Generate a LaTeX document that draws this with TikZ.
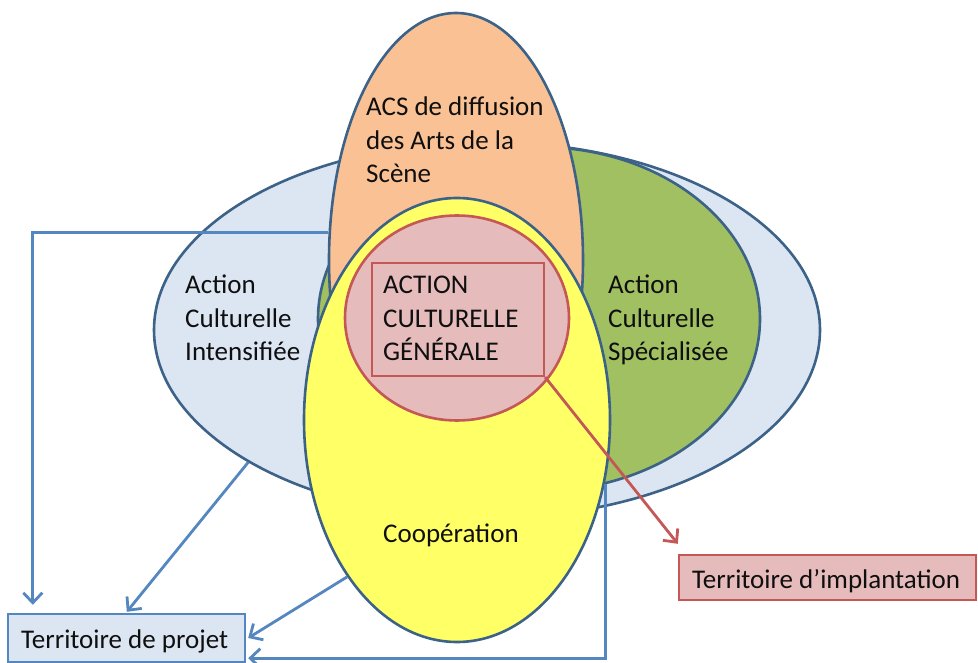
\documentclass[tikz,border=0pt]{standalone}
\usepackage{fontspec}
\setmainfont{Carlito}
\usetikzlibrary{shapes.geometric,arrows.meta,calc}
\definecolor{bluefill}{RGB}{220,230,242}
\definecolor{edgeblue}{RGB}{60,98,135}
\definecolor{greenfill}{RGB}{160,192,98}
\definecolor{orangefill}{RGB}{250,194,148}
\definecolor{yellowfill}{RGB}{255,255,102}
\definecolor{pinkfill}{RGB}{230,187,188}
\definecolor{redline}{RGB}{196,88,86}
\definecolor{connblue}{RGB}{84,134,192}
\definecolor{txt}{RGB}{15,15,15}
\newcommand\stacklines[1]{\begin{tabular}[t]{@{}l@{}}#1\end{tabular}}
\begin{document}
\begin{tikzpicture}[x=1pt,y=-1pt,
  zone/.style={ellipse, draw=edgeblue, line width=2.6pt, inner sep=0pt},
  lbl/.style={anchor=base west, inner sep=0pt, text=txt, font=\fontsize{27}{33.5}\selectfont},
  connector/.style={draw=connblue, line width=2.8pt, -{Straight Barb[length=10pt,width=19pt]}},
  redconnector/.style={draw=redline, line width=2.8pt, -{Straight Barb[length=10pt,width=19pt]}},
  boxstyle/.style={draw=connblue, fill=bluefill, line width=2.4pt, inner sep=0pt}]
\useasboundingbox (0,0) rectangle (978,663);
\fill[white] (0,0) rectangle (978,663);

% zones
\node[zone, fill=bluefill, minimum width=666pt, minimum height=376pt] (blue) at (487,330) {};
\node[zone, fill=greenfill, minimum width=442pt, minimum height=344pt] (green) at (539,319) {};
\node[zone, fill=orangefill, minimum width=254pt, minimum height=494pt] (orange) at (456,260) {};
\node[zone, fill=yellowfill, minimum width=306pt, minimum height=444pt] (yellow) at (457,420) {};
\node[ellipse, draw=redline, fill=pinkfill, line width=2.6pt, inner sep=0pt,
      minimum width=224pt, minimum height=205pt] (red) at (457,318) {};
\node[draw=redline, line width=2.2pt, minimum width=172pt, minimum height=113pt, inner sep=0pt]
      (rect) at (458,319.5) {};

% labels
\node[lbl] (tacs) at (366,116) {\stacklines{ACS de diffusion\\des Arts de la\\Scène}};
\node[lbl] (tint) at (185,294) {\stacklines{Action\\Culturelle\\Intensifiée}};
\node[lbl] (tspe) at (608,294) {\stacklines{Action\\Culturelle\\Spécialisée}};
\node[lbl] (tgen) at (383,294) {\stacklines{ACTION\\CULTURELLE\\GÉNÉRALE}};
\node[lbl] (tcoop) at (383,542) {Coopération};

% boxes
\node[boxstyle, minimum width=237pt, minimum height=48pt] (projet) at (126.5,638) {};
\node[lbl] (tprojet) at (21,648) {Territoire de projet};
\node[draw=redline, fill=pinkfill, line width=2.4pt, inner sep=0pt,
      minimum width=297pt, minimum height=45pt] (implant) at (827.5,577.5) {};
\node[lbl] (timplant) at (692,588) {Territoire d’implantation};

% connectors
\draw[connector] (orange.168) -| ([xshift=26pt,yshift=8pt]projet.north west);
\draw[connector] (blue.209) -- ([xshift=120pt,yshift=1pt]projet.north west);
\draw[connector] (yellow.235.7) -- ([xshift=2pt]projet.east);
\draw[connector] (green.-68) |- ([xshift=2pt,yshift=5pt]projet.south east);
\draw[redconnector] (rect.south east) -- ([yshift=10pt]implant.north west);
\end{tikzpicture}
\end{document}
